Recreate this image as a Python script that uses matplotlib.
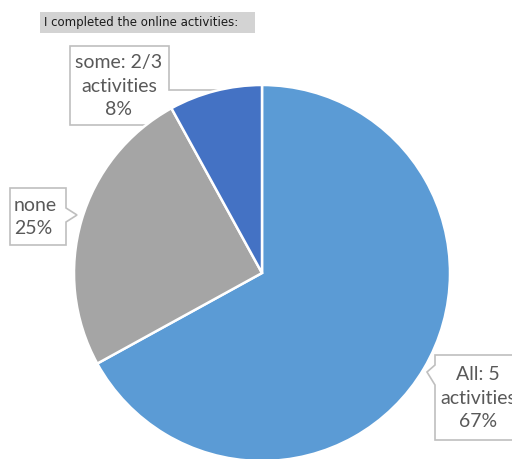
import matplotlib.pyplot as plt
from matplotlib.patches import Polygon, Rectangle

labels = ['All: 5\nactivities', 'none', 'some: 2/3\nactivities']
shares = [67, 25, 8]
colors = ['#5B9BD5', '#A5A5A5', '#4472C4']

W, H = 512, 459
fig = plt.figure(figsize=(W / 100, H / 100), dpi=100)
ax = fig.add_axes([0, 0, 1, 1])

# pie drawn in pixel space; y axis is flipped, so counterclock=True runs clockwise on screen
cx, cy, r = 262, 273, 188
wedges, _ = ax.pie(shares, colors=colors, startangle=-90, counterclock=True,
                   center=(cx, cy), radius=r, frame=True,
                   wedgeprops=dict(edgecolor='white', linewidth=1.8))
for w in wedges:
    w.set_zorder(2)
ax.set_xlim(0, W)
ax.set_ylim(H, 0)
ax.set_aspect('equal')
ax.axis('off')

# callout boxes: (outline polygon, text x, text y, alignment)
callouts = [
    ([(435, 355), (520, 355), (520, 440), (435, 440), (435, 385), (427, 372), (435, 365)],
     478, 398, 'center'),
    ([(10, 188), (66, 188), (66, 208), (77, 215), (66, 222), (66, 245), (10, 245)],
     14, 217, 'left'),
    ([(70, 46), (169, 46), (169, 90), (235, 90), (169, 110), (169, 125), (70, 125)],
     119, 86, 'center'),
]
for (poly, tx, ty, ha), lab, val in zip(callouts, labels, shares):
    ax.add_patch(Polygon(poly, closed=True, facecolor='white',
                         edgecolor='#BFBFBF', linewidth=1.2, zorder=1))
    ax.text(tx, ty, f'{lab}\n{val}%', ha=ha, va='center', fontsize=14,
            color='#595959', family='Lato', linespacing=1.45, zorder=4)

# title on a grey band
ax.add_patch(Rectangle((40, 12), 215, 21, facecolor='#D3D3D3', edgecolor='none', zorder=3))
ax.text(44, 22.5, 'I completed the online activities:', ha='left', va='center',
        fontsize=8.5, color='#1A1A1A', family='DejaVu Sans', zorder=4)

fig.savefig('out.png', dpi=100)
